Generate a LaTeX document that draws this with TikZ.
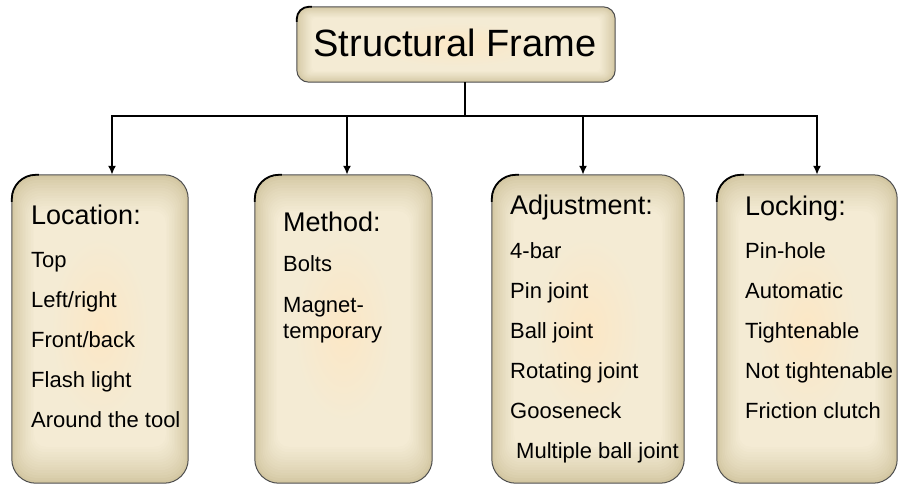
\documentclass[tikz,border=0pt]{standalone}
\usepackage{fontspec}
\setmainfont{Liberation Sans}
\usetikzlibrary{arrows.meta,calc}

\definecolor{boxout}{HTML}{D2C6A1}
\definecolor{boxin}{HTML}{F4EBD4}
\definecolor{boxcore}{HTML}{FCE7C5}
\definecolor{boxline}{HTML}{4E4E4E}

\tikzset{
  conn/.style={line width=1.8pt, black},
  tip/.style={conn, -{Latex[length=9pt,width=8pt]}},
  head/.style={anchor=base west, inner sep=0pt, font=\fontsize{27}{30}\selectfont},
  item/.style={anchor=base west, inner sep=0pt, font=\fontsize{22}{26}\selectfont},
  titletext/.style={anchor=base, inner sep=0pt, font=\fontsize{38}{40}\selectfont},
}

% #1 name, #2 x1, #3 y1, #4 x2, #5 y2, #6 corner radius, #7 x step, #8 y step
\newcommand\tanbox[8]{%
  \node[inner sep=0pt, minimum width={(#4-#2)*1pt}, minimum height={(#5-#3)*1pt}]
    (#1) at ({(#2+#4)/2},{(#3+#5)/2}) {};
  \foreach \k in {0,...,14}{
    \pgfmathsetmacro\dx{\k*#7}
    \pgfmathsetmacro\dy{\k*#8}
    \pgfmathsetmacro\rr{max(3,#6-\k*0.9)}
    \pgfmathsetmacro\mx{100*(\k/14)^0.75}
    \fill[boxin!\mx!boxout, rounded corners=\rr pt]
      ($(#1.south west)+(\dx pt,\dy pt)$) rectangle ($(#1.north east)+(-\dx pt,-\dy pt)$);
  }
  \pgfmathsetmacro\ew{(#4-#2)*0.28}
  \pgfmathsetmacro\eh{(#5-#3)*0.30}
  \shade[inner color=boxcore, outer color=boxin] (#1.center) ellipse ({\ew pt} and {\eh pt});
  \draw[boxline, line width=1pt, rounded corners=#6pt]
    (#1.south west) rectangle (#1.north east);
  \draw[black, line width=1.8pt]
    ($(#1.north west)+(0pt,-#6pt-3pt)$) -- ++(0pt,3pt)
    arc[start angle=180, end angle=90, radius=#6pt] -- ++(3pt,0pt);
}

\begin{document}
\begin{tikzpicture}[x=1pt, y=-1pt]
  \useasboundingbox (0,0) rectangle (899,484);

  % boxes
  \tanbox{frame}{297}{7}{615}{82}{12}{1.1}{0.8}
  \tanbox{loc}{12}{175}{188}{483}{24}{1.6}{2.6}
  \tanbox{meth}{255}{175}{432}{483}{24}{1.6}{2.6}
  \tanbox{adj}{492}{175}{684}{483}{24}{1.6}{2.6}
  \tanbox{lock}{717}{175}{897}{483}{24}{1.6}{2.6}

  % title
  \node[titletext] (title) at (455,57) {Structural Frame};

  % connectors
  \coordinate (hub) at (465,116);
  \coordinate (busL) at (112,116);
  \coordinate (busM) at (347,116);
  \coordinate (busA) at (583,116);
  \coordinate (busR) at (817,116);
  \draw[conn] (frame.south -| hub) -- (hub);
  \draw[conn, line cap=rect] (busL) -- (busR);
  \draw[tip] (busL) -- (busL |- loc.north);
  \draw[tip] (busM) -- (busM |- meth.north);
  \draw[tip] (busA) -- (busA |- adj.north);
  \draw[tip] (busR) -- (busR |- lock.north);

  % Location
  \node[head] (locH) at (31,224) {Location:};
  \node[item] (loc1) at (31,267) {Top};
  \node[item] (loc2) at (31,307) {Left/right};
  \node[item] (loc3) at (31,347) {Front/back};
  \node[item] (loc4) at (31,387) {Flash light};
  \node[item] (loc5) at (31,427) {Around the tool};

  % Method
  \node[head] (methH) at (283,231) {Method:};
  \node[item] (meth1) at (283,271) {Bolts};
  \node[item] (meth2) at (283,312) {Magnet-};
  \node[item] (meth3) at (283,338) {temporary};

  % Adjustment
  \node[head] (adjH) at (510,214) {Adjustment:};
  \node[item] (adj1) at (510,258) {4-bar};
  \node[item] (adj2) at (510,298) {Pin joint};
  \node[item] (adj3) at (510,338) {Ball joint};
  \node[item] (adj4) at (510,378) {Rotating joint};
  \node[item] (adj5) at (510,418) {Gooseneck};
  \node[item] (adj6) at (516,458) {Multiple ball joint};

  % Locking
  \node[head] (lockH) at (745,215) {Locking:};
  \node[item] (lock1) at (745,258) {Pin-hole};
  \node[item] (lock2) at (745,298) {Automatic};
  \node[item] (lock3) at (745,338) {Tightenable};
  \node[item] (lock4) at (745,378) {Not tightenable};
  \node[item] (lock5) at (745,418) {Friction clutch};
\end{tikzpicture}
\end{document}
